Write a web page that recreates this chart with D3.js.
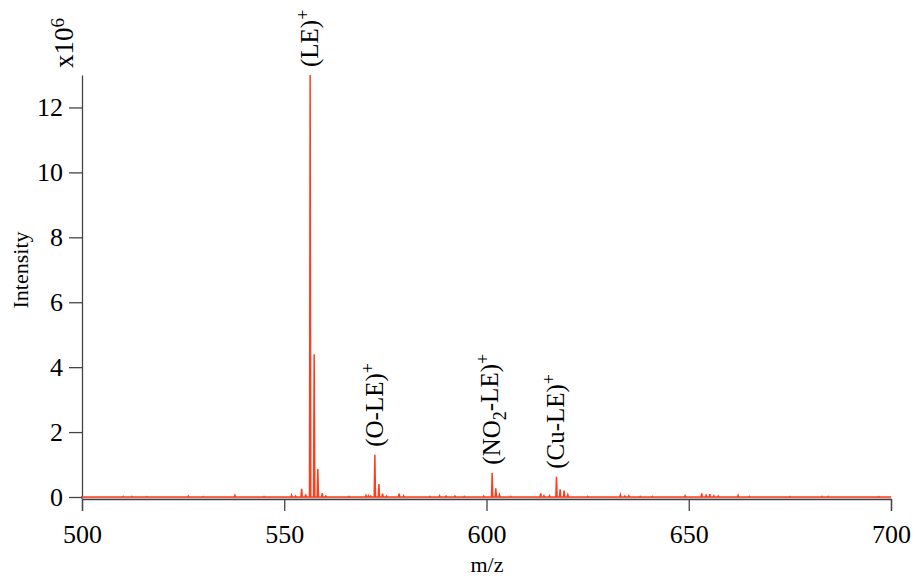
<!DOCTYPE html>
<html>
<head>
<meta charset="utf-8">
<script src="https://cdn.jsdelivr.net/npm/d3@7/dist/d3.min.js"></script>
<style>
  body { margin: 0; background: #fff; }
  svg { font-family: "Liberation Serif", "Times New Roman", serif; }
</style>
</head>
<body>
<svg id="chart" width="915" height="578"></svg>
<script>
// m/z of each peak and its intensity (x10^6)
var peakMz = [510.2, 512.3, 516.0, 526.3, 530.0, 537.8, 545.0, 551.8, 552.8, 554.3,
  555.3, 556.4, 557.4, 558.3, 559.4, 560.3, 566.0, 570.2, 570.8, 571.4,
  572.4, 573.4, 574.3, 575.3, 578.4, 579.5, 586.0, 588.4, 590.0, 592.2,
  594.5, 599.3, 601.4, 602.3, 603.2, 606.0, 613.4, 614.2, 615.6, 617.3,
  618.2, 619.2, 620.1, 625.0, 633.1, 634.2, 635.2, 638.0, 641.0, 649.1,
  653.2, 654.3, 655.2, 656.2, 657.3, 662.2, 665.0, 675.0, 683.0, 684.5, 697.0];
var peakInt = [0.02, 0.02, 0.01, 0.03, 0.015, 0.05, 0.015, 0.06, 0.03, 0.25,
  0.08, 13.0, 4.4, 0.86, 0.12, 0.03, 0.02, 0.05, 0.04, 0.03,
  1.3, 0.4, 0.1, 0.03, 0.1, 0.04, 0.02, 0.04, 0.03, 0.03,
  0.02, 0.03, 0.75, 0.27, 0.07, 0.02, 0.11, 0.04, 0.04, 0.62,
  0.24, 0.2, 0.07, 0.02, 0.07, 0.03, 0.04, 0.02, 0.02, 0.04,
  0.11, 0.05, 0.09, 0.04, 0.03, 0.05, 0.02, 0.015, 0.02, 0.02, 0.015];

// annotated ions
var ionMz = [556.4, 572.4, 601.4, 617.3];
var ionInt = [13.0, 1.3, 0.75, 0.62];
var ionLabel = [["(LE)", ""], ["(O-LE)", ""], ["(NO", "2", "-LE)"], ["(Cu-LE)", ""]];

var xTicks = [500, 550, 600, 650, 700];
var yTicks = [0, 2, 4, 6, 8, 10, 12];

var svg = d3.select("#chart");
var red = "#ff3d1c", axisCol = "#444";

var x = d3.scaleLinear().domain([500, 700]).range([82, 891]);
var y = d3.scaleLinear().domain([0, 13]).range([497, 75]);

// build spectrum profile: baseline, then a narrow peak at each m/z
var pts = [[500, 0]];
var hw = 0.16;
peakMz.forEach(function(m, i) {
  pts.push([m - hw, 0], [m, peakInt[i]], [m + hw, 0]);
});
pts.push([700, 0]);

var line = d3.line().x(function(d) { return x(d[0]); }).y(function(d) { return y(d[1]); });

// axes
var xAxis = svg.append("g").attr("transform", "translate(0,499)")
  .call(d3.axisBottom(x).tickValues(xTicks).tickSize(12).tickPadding(14));
var yAxis = svg.append("g").attr("transform", "translate(82,0)")
  .call(d3.axisLeft(y).tickValues(yTicks).tickSizeInner(13).tickSizeOuter(0).tickPadding(6));

[xAxis, yAxis].forEach(function(a) {
  a.selectAll("path, line").attr("stroke", axisCol).attr("stroke-width", 1.3);
  a.selectAll("text").attr("font-family", "Liberation Serif").attr("font-size", 26).attr("fill", "#000");
});
svg.append("line").attr("x1", 82).attr("x2", 82).attr("y1", 496).attr("y2", 499)
  .attr("stroke", axisCol).attr("stroke-width", 1.3);

// faint grey trace under the baseline
svg.append("line").attr("x1", x(500)).attr("x2", x(700)).attr("y1", y(0) + 1).attr("y2", y(0) + 1)
  .attr("stroke", "#999").attr("stroke-width", 1);

svg.append("path").datum(pts)
  .attr("d", line)
  .attr("fill", "none")
  .attr("stroke", red)
  .attr("stroke-width", 1.5);

// axis titles
svg.append("text").attr("x", 487).attr("y", 572).attr("text-anchor", "middle")
  .attr("font-size", 22).text("m/z");
svg.append("text").attr("transform", "translate(28,270) rotate(-90)").attr("text-anchor", "middle")
  .attr("font-size", 22).text("Intensity");

var sc = svg.append("text").attr("transform", "translate(73,68) rotate(-90)")
  .attr("font-size", 27);
sc.append("tspan").text("x10");
sc.append("tspan").attr("dy", "-0.45em").attr("font-size", 19).text("6");

// peak labels
ionMz.forEach(function(m, i) {
  var t = svg.append("text")
    .attr("transform", "translate(" + (x(m) + 8) + "," + (y(ionInt[i]) - 8) + ") rotate(-90)")
    .attr("font-size", 25);
  var parts = ionLabel[i];
  t.append("tspan").text(parts[0]);
  if (parts.length === 3) {
    t.append("tspan").attr("dy", "0.3em").attr("font-size", 18).text(parts[1]);
    t.append("tspan").attr("dy", "-0.3em").text(parts[2]);
  }
  t.append("tspan").attr("dy", "-0.5em").attr("font-size", 18).text("+");
});
</script>
</body>
</html>
